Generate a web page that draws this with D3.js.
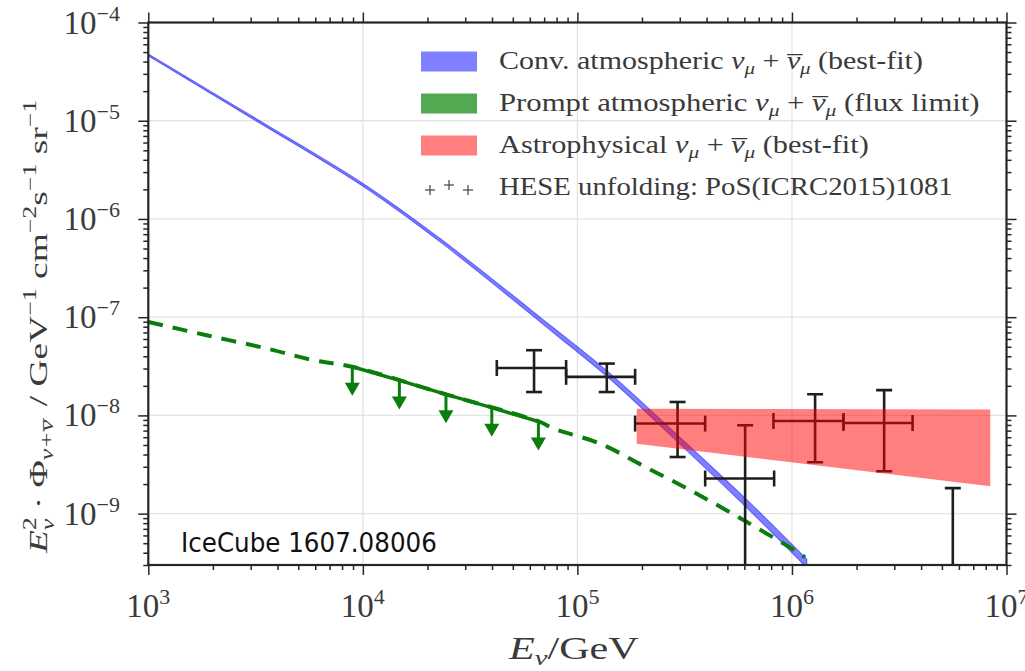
<!DOCTYPE html>
<html><head><meta charset="utf-8">
<script src="https://cdn.jsdelivr.net/npm/d3@7"></script>
<style>body{margin:0;background:#fff}svg{display:block}</style>
</head><body><svg id="c" width="1025" height="671"></svg>
<script>
// ---------- data ----------
const xDomain = [1e3, 1e7];
const yDomain = [3e-10, 1e-4];
const xMajorTicks = [1e3, 1e4, 1e5, 1e6, 1e7];
const xTickExp = ["3", "4", "5", "6", "7"];
const yMajorTicks = [1e-9, 1e-8, 1e-7, 1e-6, 1e-5, 1e-4];
const yTickExp = ["\u22129", "\u22128", "\u22127", "\u22126", "\u22125", "\u22124"];

// conventional atmospheric (best-fit band)
const convE    = [1e3, 3.2e3, 1.005e4, 2.29e4, 7.73e4, 1.371e5, 2.43e5, 6.16e5, 1.174e6];
const convFlux = [4.67e-5, 1.016e-5, 2.21e-6, 6.08e-7, 7.36e-8, 2.67e-8, 8.51e-9, 1.26e-9, 3.10e-10];
const convUnc  = [0.022, 0.027, 0.033, 0.04, 0.06, 0.07, 0.08, 0.1, 0.11];

// prompt atmospheric (nominal, dashed)
const promptE    = [1e3, 1.87e3, 3.56e3, 5.87e3, 9.04e3, 2.46e4, 6.70e4, 7.73e4, 1.276e5, 2.07e5, 3.48e5, 6.17e5, 1.09e6, 1.15e6];
const promptFlux = [8.95e-8, 6.55e-8, 4.80e-8, 3.65e-8, 3.11e-8, 1.63e-8, 8.57e-9, 7.35e-9, 5.16e-9, 2.99e-9, 1.66e-9, 8.20e-10, 3.92e-10, 3.59e-10];

// prompt flux limit
const limitE    = [8.93e3, 1.48e4, 2.44e4, 3.99e4, 6.58e4];
const limitFlux = [3.13e-8, 2.27e-8, 1.64e-8, 1.20e-8, 8.67e-9];

// astrophysical best-fit band
const astroE    = [1.89e5, 8.4e6];
const astroHigh = [1.17e-8, 1.15e-8];
const astroLow  = [5.16e-9, 1.90e-9];

// HESE unfolding points
const heseE     = [6.28e4, 1.371e5, 2.93e5, 6.05e5, 1.282e6, 2.69e6, 5.62e6];
const heseELow  = [4.21e4, 8.86e4, 1.858e5, 3.94e5, 8.2e5, 1.738e6, null];
const heseEHigh = [8.86e4, 1.858e5, 3.94e5, 8.26e5, 1.738e6, 3.65e6, null];
const heseFlux  = [3.04e-8, 2.47e-8, 8.26e-9, 2.28e-9, 8.77e-9, 8.38e-9, null];
const heseHigh  = [4.61e-8, 3.37e-8, 1.37e-8, 7.94e-9, 1.64e-8, 1.81e-8, 1.82e-9];
const heseLow   = [1.73e-8, 1.73e-8, 3.77e-9, 0, 3.33e-9, 2.70e-9, 0];

const legendLabels = [
  {pre: "Conv. atmospheric ", post: " (best-fit)"},
  {pre: "Prompt atmospheric ", post: " (flux limit)"},
  {pre: "Astrophysical ", post: " (best-fit)"},
  {pre: "HESE unfolding: PoS(ICRC2015)1081", post: null}
];
const annotation = "IceCube 1607.08006";

// ---------- drawing ----------
const svg = d3.select("#c");
const L = 148.3, R = 1006.5, T = 22.5, B = 565;
const x = d3.scaleLog().domain(xDomain).range([L, R]);
const y = d3.scaleLog().domain(yDomain).range([B, T]);
const serif = "'Liberation Serif', 'DejaVu Serif', serif";
const ink = "#262626";
const txt = "#3a3a3a";

function minorTicks(dom) {
  const out = [];
  const a = Math.round(Math.log10(dom[0]) - 1), b = Math.round(Math.log10(dom[1]));
  for (let e = a; e <= b; e++) for (let m = 2; m <= 9; m++) {
    const v = m * Math.pow(10, e);
    if (v >= dom[0] * 0.999 && v <= dom[1] * 1.001) out.push(v);
  }
  return out;
}

// grid
const grid = svg.append("g").attr("stroke", "#e4e4e4").attr("stroke-width", 1.3);
xMajorTicks.forEach(v => grid.append("line").attr("x1", x(v)).attr("x2", x(v)).attr("y1", T).attr("y2", B));
yMajorTicks.forEach(v => grid.append("line").attr("y1", y(v)).attr("y2", y(v)).attr("x1", L).attr("x2", R));

// clip
svg.append("clipPath").attr("id", "plot").append("rect").attr("x", L).attr("y", T).attr("width", R - L).attr("height", B - T);
const P = svg.append("g").attr("clip-path", "url(#plot)");

// conventional band
const convData = convE.map((e, i) => ({e, lo: convFlux[i] / (1 + convUnc[i]), hi: convFlux[i] * (1 + convUnc[i])}));
P.append("path").datum(convData)
  .attr("d", d3.area().x(d => x(d.e)).y0(d => y(d.lo)).y1(d => y(d.hi)).curve(d3.curveCatmullRom.alpha(0.5)))
  .attr("fill", "#0000ff").attr("fill-opacity", 0.5).attr("stroke", "#0000ff").attr("stroke-opacity", 0.45).attr("stroke-width", 1.1);

// prompt dashed
const green = "#0b7d0b";
const promptData = promptE.map((e, i) => ({e, f: promptFlux[i]}));
P.append("path").datum(promptData)
  .attr("d", d3.line().x(d => x(d.e)).y(d => y(d.f)).curve(d3.curveCatmullRom.alpha(0.5)))
  .attr("fill", "none").attr("stroke", green).attr("stroke-width", 4).attr("stroke-dasharray", "15,10");

// prompt limit
const limData = limitE.map((e, i) => ({e, f: limitFlux[i]}));
P.append("path").datum(limData)
  .attr("d", d3.line().x(d => x(d.e)).y(d => y(d.f)))
  .attr("fill", "none").attr("stroke", green).attr("stroke-width", 3.5);
limData.forEach(d => {
  const px = x(d.e), py = y(d.f);
  P.append("line").attr("x1", px).attr("x2", px).attr("y1", py).attr("y2", py + 18)
    .attr("stroke", green).attr("stroke-width", 3);
  P.append("path").attr("d", `M${px - 7.5},${py + 16}L${px + 7.5},${py + 16}L${px},${py + 29}Z`).attr("fill", green);
});

// HESE error bars
const eb = P.append("g").attr("stroke", "#1e1e1e").attr("stroke-width", 2.6).attr("fill", "none");
const cap = 8;
heseE.forEach((e, i) => {
  const px = x(e);
  const yTop = y(heseHigh[i]);
  const yBot = heseLow[i] > 0 ? y(heseLow[i]) : B + 5;
  eb.append("line").attr("x1", px).attr("x2", px).attr("y1", yTop).attr("y2", yBot);
  eb.append("line").attr("x1", px - cap).attr("x2", px + cap).attr("y1", yTop).attr("y2", yTop);
  if (heseLow[i] > 0) eb.append("line").attr("x1", px - cap).attr("x2", px + cap).attr("y1", yBot).attr("y2", yBot);
  if (heseFlux[i] != null) {
    const py = y(heseFlux[i]), x0 = x(heseELow[i]), x1 = x(heseEHigh[i]);
    eb.append("line").attr("x1", x0).attr("x2", x1).attr("y1", py).attr("y2", py);
    eb.append("line").attr("x1", x0).attr("x2", x0).attr("y1", py - cap).attr("y2", py + cap);
    eb.append("line").attr("x1", x1).attr("x2", x1).attr("y1", py - cap).attr("y2", py + cap);
  }
});

// astrophysical band
const astroData = astroE.map((e, i) => ({e, lo: astroLow[i], hi: astroHigh[i]}));
P.append("path").datum(astroData)
  .attr("d", d3.area().x(d => x(d.e)).y0(d => y(d.lo)).y1(d => y(d.hi)))
  .attr("fill", "#ff0000").attr("fill-opacity", 0.5);

// spines
svg.append("rect").attr("x", L).attr("y", T).attr("width", R - L).attr("height", B - T)
  .attr("fill", "none").attr("stroke", ink).attr("stroke-width", 2.2);

// ticks via d3 axes
function styleAxis(g) { g.select(".domain").remove(); g.selectAll("text").remove(); g.selectAll("line").attr("stroke", ink).attr("stroke-width", 1.5); }
const xMin = minorTicks(xDomain), yMin = minorTicks(yDomain);
svg.append("g").attr("transform", `translate(0,${B})`).call(d3.axisBottom(x).tickValues(xMajorTicks).tickSize(10).tickFormat("")).call(styleAxis);
svg.append("g").attr("transform", `translate(0,${B})`).call(d3.axisBottom(x).tickValues(xMin).tickSize(5).tickFormat("")).call(styleAxis);
svg.append("g").attr("transform", `translate(0,${T})`).call(d3.axisTop(x).tickValues(xMajorTicks).tickSize(10).tickFormat("")).call(styleAxis);
svg.append("g").attr("transform", `translate(0,${T})`).call(d3.axisTop(x).tickValues(xMin).tickSize(5).tickFormat("")).call(styleAxis);
svg.append("g").attr("transform", `translate(${L},0)`).call(d3.axisLeft(y).tickValues(yMajorTicks).tickSize(10).tickFormat("")).call(styleAxis);
svg.append("g").attr("transform", `translate(${L},0)`).call(d3.axisLeft(y).tickValues(yMin).tickSize(5).tickFormat("")).call(styleAxis);
svg.append("g").attr("transform", `translate(${R},0)`).call(d3.axisRight(y).tickValues(yMajorTicks).tickSize(10).tickFormat("")).call(styleAxis);
svg.append("g").attr("transform", `translate(${R},0)`).call(d3.axisRight(y).tickValues(yMin).tickSize(5).tickFormat("")).call(styleAxis);

// tick labels
xMajorTicks.forEach((v, i) => {
  const t = svg.append("text").attr("x", x(v)).attr("y", 617).attr("text-anchor", "middle")
    .attr("font-family", serif).attr("font-size", 33).attr("fill", txt);
  t.append("tspan").text("10");
  t.append("tspan").attr("font-size", 22).attr("dy", -13).text(xTickExp[i]);
});
yMajorTicks.forEach((v, i) => {
  const t = svg.append("text").attr("x", 120).attr("y", y(v) + 11).attr("text-anchor", "end")
    .attr("font-family", serif).attr("font-size", 33).attr("fill", txt);
  t.append("tspan").text("10");
  t.append("tspan").attr("font-size", 22).attr("dy", -13).text(yTickExp[i]);
});

// helper: stretch text horizontally to target width
function fit(t, x0, y0, target) {
  const w = t.node().getBBox().width;
  t.attr("transform", `translate(${x0},${y0}) scale(${target / w},1)`);
}
// nu_mu + nubar_mu ; returns with baseline restored by the caller's next tspan (dy = -sub)
function numu(t, fs, post) {
  const sub = 5;
  t.append("tspan").attr("font-style", "italic").text("\u03bd");
  t.append("tspan").attr("font-size", fs * 0.7).attr("font-style", "italic").attr("dy", sub).text("\u03bc");
  t.append("tspan").attr("dy", -sub).text(" + ");
  t.append("tspan").attr("font-style", "italic").text("\u03bd");
  t.append("tspan").attr("dx", -fs * 0.43).attr("dy", 4).text("\u00af");
  t.append("tspan").attr("font-size", fs * 0.7).attr("font-style", "italic").attr("dx", -fs * 0.08).attr("dy", sub - 4).text("\u03bc");
  t.append("tspan").attr("dy", -sub).text(post);
}

// x label
{
  const t = svg.append("text").attr("font-family", serif).attr("font-size", 31).attr("fill", txt);
  t.append("tspan").attr("font-style", "italic").text("E");
  t.append("tspan").attr("font-style", "italic").attr("font-size", 21).attr("dy", 6).text("\u03bd");
  t.append("tspan").attr("dy", -6).text("/GeV");
  fit(t, 509, 659, 132);
}
// y label
{
  const fs = 26;
  const t = svg.append("text").attr("font-family", serif).attr("font-size", fs).attr("fill", txt);
  t.append("tspan").attr("font-style", "italic").text("E");
  t.append("tspan").attr("font-size", 18).attr("dy", -11).text("2");
  t.append("tspan").attr("font-size", 18).attr("font-style", "italic").attr("dx", -9).attr("dy", 18).text("\u03bd");
  t.append("tspan").attr("dy", -7).text(" \u00b7 \u03a6");
  t.append("tspan").attr("font-size", 18).attr("font-style", "italic").attr("dy", 6).text("\u03bd+\u03bd");
  t.append("tspan").attr("font-size", 18).attr("dx", -8).attr("dy", 4).text("\u00af");
  t.append("tspan").attr("dy", -10).attr("dx", 2).text(" / GeV");
  t.append("tspan").attr("font-size", 18).attr("dy", -11).text("\u22121");
  t.append("tspan").attr("dy", 11).text(" cm");
  t.append("tspan").attr("font-size", 18).attr("dy", -11).text("\u22122");
  t.append("tspan").attr("dy", 11).text("s");
  t.append("tspan").attr("font-size", 18).attr("dy", -11).text("\u22121");
  t.append("tspan").attr("dy", 11).text(" sr");
  t.append("tspan").attr("font-size", 18).attr("dy", -11).text("\u22121");
  const w = t.node().getBBox().width;
  const target = 455;
  t.attr("transform", `translate(47,${553}) rotate(-90) scale(${target / w},1)`);
}

// legend
const legColors = [["#0000ff", 0.5], ["#008000", 0.68], ["#ff0000", 0.5]];
const rowY = [68.5, 110.5, 152.5, 195];
const rowEnd = [923, 980, 869, 953];
legendLabels.forEach((lab, i) => {
  if (i < 3) {
    svg.append("rect").attr("x", 421).attr("y", rowY[i] - 17).attr("width", 56).attr("height", 20)
      .attr("fill", legColors[i][0]).attr("fill-opacity", legColors[i][1]);
  } else {
    const g = svg.append("g").attr("stroke", "#444").attr("stroke-width", 1.2);
    [[430, 190], [449, 185], [468, 190]].forEach(([cx, cy]) => {
      g.append("line").attr("x1", cx - 5).attr("x2", cx + 5).attr("y1", cy).attr("y2", cy);
      g.append("line").attr("x1", cx).attr("x2", cx).attr("y1", cy - 5).attr("y2", cy + 5);
    });
  }
  const fs = 25;
  const t = svg.append("text").attr("font-family", serif).attr("font-size", fs).attr("fill", txt);
  t.append("tspan").text(lab.pre);
  if (lab.post !== null) numu(t, fs, lab.post);
  fit(t, 499, rowY[i], rowEnd[i] - 499);
});

// annotation
{
  const t = svg.append("text").attr("font-family", "'DejaVu Sans', sans-serif").attr("font-size", 26).attr("fill", "#111").text(annotation);
  fit(t, 181, 552, 256);
}
</script></body></html>
